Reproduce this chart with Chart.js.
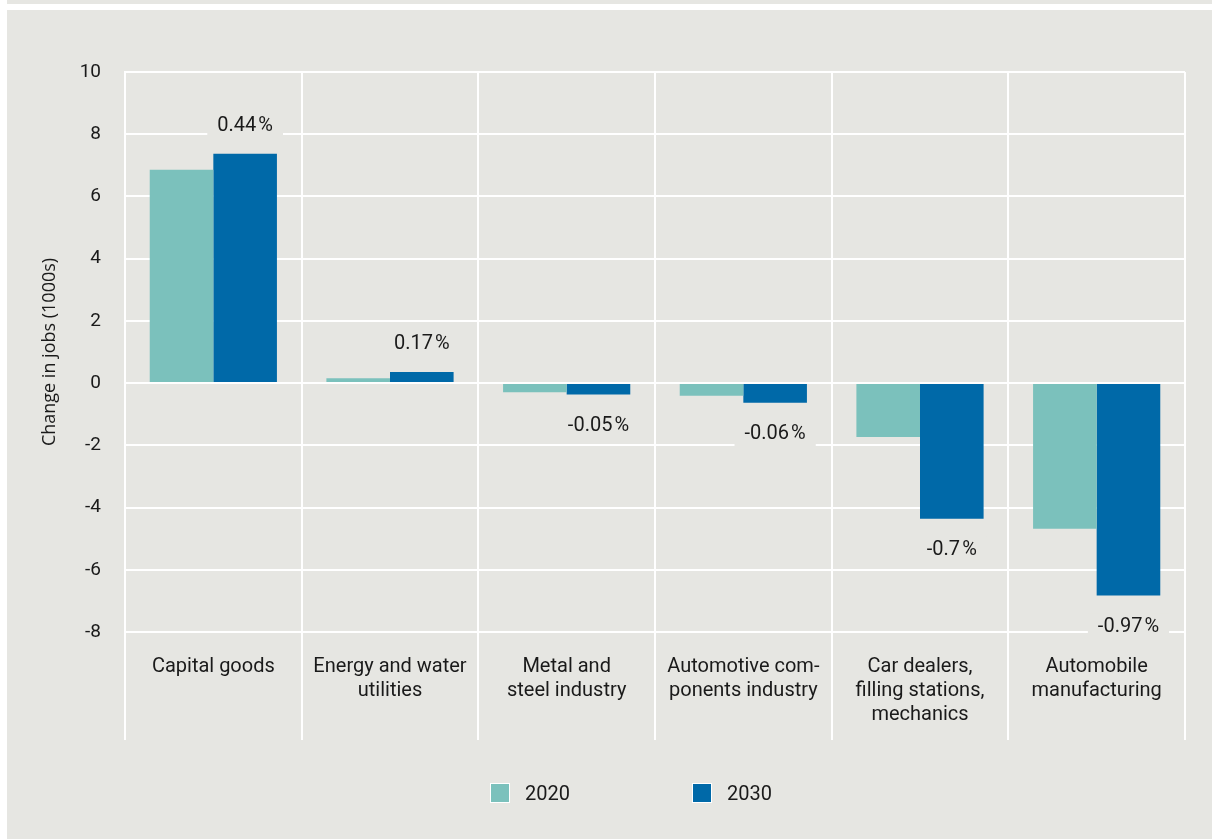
<!DOCTYPE html>
<html>
<head>
<meta charset="utf-8">
<title>Change in jobs by sector</title>
<script src="https://cdn.jsdelivr.net/npm/chart.js@4"></script>
<style>
  html, body { margin: 0; padding: 0; }
  body {
    width: 1212px; height: 839px; position: relative; overflow: hidden;
    background: #e6e6e2;
    font-family: Roboto, "Noto Sans", sans-serif;
  }
  .strip-left { position: absolute; left: 0; top: 0; width: 7px; height: 839px; background: #fff; }
  .strip-top { position: absolute; left: 7px; top: 4px; width: 1205px; height: 6px; background: #fff; }
  #wrap { position: absolute; left: 0; top: 0; width: 1212px; height: 839px; }
  .legend { position: absolute; top: 783px; left: 0; width: 1212px; height: 20px; }
  .legend .item { position: absolute; top: 0; height: 20px; display: flex; align-items: center; }
  .legend .sw { width: 18px; height: 18px; border: 1px solid #fff; margin-right: 15px; }
  .legend .lbl { font-size: 20px; color: #1a1a1a; line-height: 20px; }
</style>
</head>
<body>
<div class="strip-left"></div>
<div class="strip-top"></div>
<div id="wrap"><canvas id="jobsChart" width="1212" height="839"></canvas></div>
<div class="legend">
  <div class="item" style="left:490px"><span class="sw" style="background:#7bc1bc"></span><span class="lbl">2020</span></div>
  <div class="item" style="left:692px"><span class="sw" style="background:#0069a8"></span><span class="lbl">2030</span></div>
</div>
<script>
const sectors = [
  'Capital goods',
  ['Energy and water', 'utilities'],
  ['Metal and', 'steel industry'],
  ['Automotive com-', 'ponents industry'],
  ['Car dealers,', 'filling stations,', 'mechanics'],
  ['Automobile', 'manufacturing']
];
const jobs2020 = [6.86, 0.16, -0.29, -0.41, -1.73, -4.68];
const jobs2030 = [7.37, 0.36, -0.37, -0.63, -4.36, -6.83];
const share2030 = ['0.44', '0.17', '-0.05', '-0.06', '-0.7', '-0.97'];
const yTicks = { min: -8, max: 10, step: 2 };

const BG = '#e6e6e2';
const TEXT = '#1a1a1a';

// percentage labels over the 2030 bars, boxed in background colour so grid lines break behind them
const shareLabels = {
  id: 'shareLabels',
  afterDatasetsDraw(chart) {
    const meta = chart.getDatasetMeta(1);
    const ctx = chart.ctx;
    ctx.save();
    ctx.font = '20px Roboto, "Noto Sans", sans-serif';
    ctx.textAlign = 'center';
    ctx.textBaseline = 'middle';
    meta.data.forEach((bar, i) => {
      const text = share2030[i] + '\u200a%';
      const neg = jobs2030[i] < 0;
      const y = neg ? bar.y + 31 : bar.y - 28;
      const w = ctx.measureText(text).width + 20;
      ctx.fillStyle = BG;
      ctx.fillRect(bar.x - w / 2, y - 13, w, 26);
      ctx.fillStyle = TEXT;
      ctx.fillText(text, bar.x, y);
    });
    ctx.restore();
  }
};

new Chart(document.getElementById('jobsChart'), {
  type: 'bar',
  data: {
    labels: sectors,
    datasets: [
      { label: '2020', data: jobs2020, backgroundColor: '#7bc1bc' },
      { label: '2030', data: jobs2030, backgroundColor: '#0069a8' }
    ]
  },
  options: {
    responsive: false,
    animation: false,
    events: [],
    categoryPercentage: 0.72,
    barPercentage: 1.0,
    layout: { padding: { top: 72, right: 27, left: 0, bottom: 0 } },
    plugins: { legend: { display: false }, tooltip: { enabled: false } },
    scales: {
      x: {
        grid: { color: '#ffffff', lineWidth: 2, tickLength: 108, tickColor: '#ffffff', tickWidth: 2 },
        border: { color: '#ffffff', width: 2 },
        ticks: {
          color: TEXT,
          font: { family: 'Roboto', size: 20, lineHeight: 1.2 },
          padding: -85,
          maxRotation: 0,
          autoSkip: false
        },
        afterFit(scale) { scale.height = 207; }
      },
      y: {
        min: yTicks.min,
        max: yTicks.max,
        grid: { color: '#ffffff', lineWidth: 2, drawTicks: false },
        border: { color: '#ffffff', width: 2 },
        ticks: {
          stepSize: yTicks.step,
          color: TEXT,
          padding: 24,
          font: { family: 'Roboto', size: 19 }
        },
        title: {
          display: true,
          text: 'Change in jobs (1000s)',
          color: TEXT,
          font: { family: 'Open Sans', size: 18 },
          padding: { top: 39, bottom: 0 }
        },
        afterFit(scale) { scale.width = 125; }
      }
    }
  },
  plugins: [shareLabels]
});
</script>
</body>
</html>
